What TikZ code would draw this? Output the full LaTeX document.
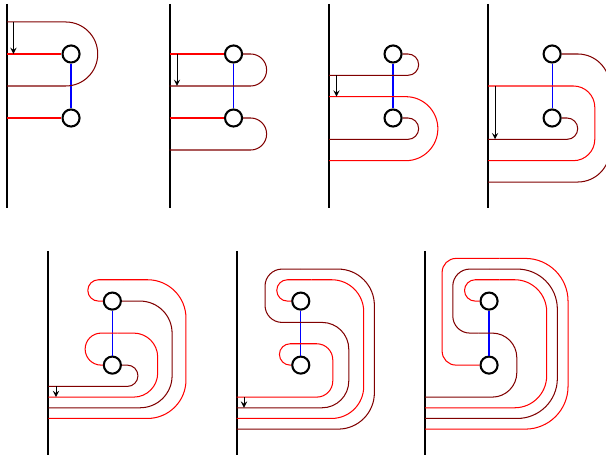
\documentclass[tikz,border=0pt]{standalone}
\usepackage{tikz}
\definecolor{dred}{RGB}{128,0,0}

\begin{document}
\begin{tikzpicture}[x=0.2cm,y=0.2cm]
\tikzset{bead/.style = {shape=circle,draw,line width=1.1pt,minimum size=0.32cm,inner sep=0pt}}
\tikzset{wall/.style = {line width=1.1pt}}
\tikzset{link/.style = {draw=blue,line width=0.65pt}}
\tikzset{rstr/.style = {red,line width=0.55pt}}
\tikzset{dstr/.style = {dred,line width=0.55pt}}
\tikzset{slide/.style = {-stealth,line width=0.5pt}}
\clip (0,0) rectangle (56.8,-42.84);
% walls and the two beads of each panel
\foreach \p/\x/\y in {a/0.66/-5.06, b/15.89/-5.06, c/30.84/-5.06, d/45.75/-5.06,
                      e/4.53/-28.22, f/22.19/-28.22, g/39.84/-28.22} {
  \draw[wall] (\x,\y+4.7) -- (\x,\y-14.4);
  \node[bead] (\p u) at (\x+6,\y) {};
  \node[bead] (\p l) at (\x+6,\y-6) {};
  \draw[link] (\p u.south) -- (\p l.north);
}
% panel a
\begin{scope}[shift={(0.66,-5.06)}]
\draw[dstr,rounded corners=0.6cm] (0,3) -- (8.5,3) -- (8.5,-3) -- (0,-3);
\draw[rstr] (0,0) -- (au.west);
\draw[rstr] (0,-6) -- (al.west);
\draw[slide] (0.6,3) -- (0.6,0);
\end{scope}
% panel b
\begin{scope}[shift={(15.89,-5.06)}]
\draw[rstr] (0,0) -- (bu.west);
\draw[dstr,rounded corners=0.3cm] (bu.east) -- (9.1,0) -- (9.1,-3) -- (0,-3);
\draw[rstr] (0,-6) -- (bl.west);
\draw[dstr,rounded corners=0.3cm] (bl.east) -- (9.1,-6) -- (9.1,-9) -- (0,-9);
\draw[slide] (0.7,0) -- (0.7,-3);
\end{scope}
% panel c
\begin{scope}[shift={(30.84,-5.06)}]
\draw[dstr,rounded corners=0.2cm] (cu.east) -- (8.4,0) -- (8.4,-2) -- (0,-2);
\draw[rstr,rounded corners=0.6cm] (0,-4) -- (10.2,-4) -- (10.2,-10) -- (0,-10);
\draw[dstr,rounded corners=0.2cm] (cl.east) -- (8.4,-6) -- (8.4,-8) -- (0,-8);
\draw[slide] (0.7,-2) -- (0.7,-4);
\end{scope}
% panel d
\begin{scope}[shift={(45.75,-5.06)}]
\draw[dstr,rounded corners=0.6cm] (du.east) -- (11.4,0) -- (11.4,-12) -- (0,-12);
\draw[rstr,rounded corners=0.4cm] (0,-3) -- (10,-3) -- (10,-10) -- (0,-10);
\draw[dstr,rounded corners=0.2cm] (dl.east) -- (8.4,-6) -- (8.4,-8) -- (0,-8);
\draw[slide] (0.65,-3) -- (0.65,-8);
\end{scope}
% panel e
\begin{scope}[shift={(4.53,-28.22)}]
\draw[dstr,rounded corners=0.2cm] (el.east) -- (8.4,-6) -- (8.4,-8) -- (0,-8);
\draw[rstr,rounded corners=0.45cm] (0,-9) -- (10.25,-9) -- (10.25,-3) -- (6.5,-3);
\draw[rstr,rounded corners=0.3cm] (6.5,-3) -- (3.45,-3) -- (3.45,-6) -- (el.west);
\draw[dstr,rounded corners=0.6cm] (eu.east) -- (11.6,0) -- (11.6,-10) -- (0,-10);
\draw[rstr,rounded corners=0.72cm] (0,-11) -- (12.9,-11) -- (12.9,2) -- (7,2);
\draw[rstr,rounded corners=0.2cm] (7,2) -- (3.7,2) -- (3.7,0) -- (eu.west);
\draw[slide] (0.72,-8) -- (0.72,-9);
\end{scope}
% panel f
\begin{scope}[shift={(22.19,-28.22)}]
\draw[rstr,rounded corners=0.3cm] (0,-9) -- (9,-9) -- (9,-4) -- (6,-4);
\draw[rstr,rounded corners=0.2cm] (6,-4) -- (4,-4) -- (4,-6) -- (fl.west);
\draw[dstr,rounded corners=0.5cm] (0,-10) -- (10.5,-10) -- (10.5,-2) -- (6,-2);
\draw[dstr,rounded corners=0.32cm] (6,-2) -- (2.65,-2) -- (2.65,3) -- (6,3);
\draw[dstr,rounded corners=0.68cm] (6,3) -- (12.9,3) -- (12.9,-12) -- (0,-12);
\draw[rstr,rounded corners=0.6cm] (0,-11) -- (11.9,-11) -- (11.9,2) -- (7,2);
\draw[rstr,rounded corners=0.2cm] (7,2) -- (3.75,2) -- (3.75,0) -- (fu.west);
\draw[slide] (0.68,-9) -- (0.68,-10);
\end{scope}
% panel g
\begin{scope}[shift={(39.84,-28.22)}]
\draw[dstr,rounded corners=0.46cm] (0,-9) -- (8.6,-9) -- (8.6,-3) -- (5,-3);
\draw[dstr,rounded corners=0.32cm] (5,-3) -- (2.6,-3) -- (2.6,3) -- (6,3);
\draw[dstr,rounded corners=0.75cm] (6,3) -- (12.4,3) -- (12.4,-11) -- (0,-11);
\draw[rstr,rounded corners=0.6cm] (0,-10) -- (11.4,-10) -- (11.4,2) -- (7,2);
\draw[rstr,rounded corners=0.2cm] (7,2) -- (3.7,2) -- (3.7,0) -- (gu.west);
\draw[rstr,rounded corners=0.8cm] (0,-12) -- (13.4,-12) -- (13.4,4) -- (7,4);
\draw[rstr,rounded corners=0.26cm] (7,4) -- (1.6,4) -- (1.6,-6) -- (gl.west);
\end{scope}
\end{tikzpicture}
\end{document}
